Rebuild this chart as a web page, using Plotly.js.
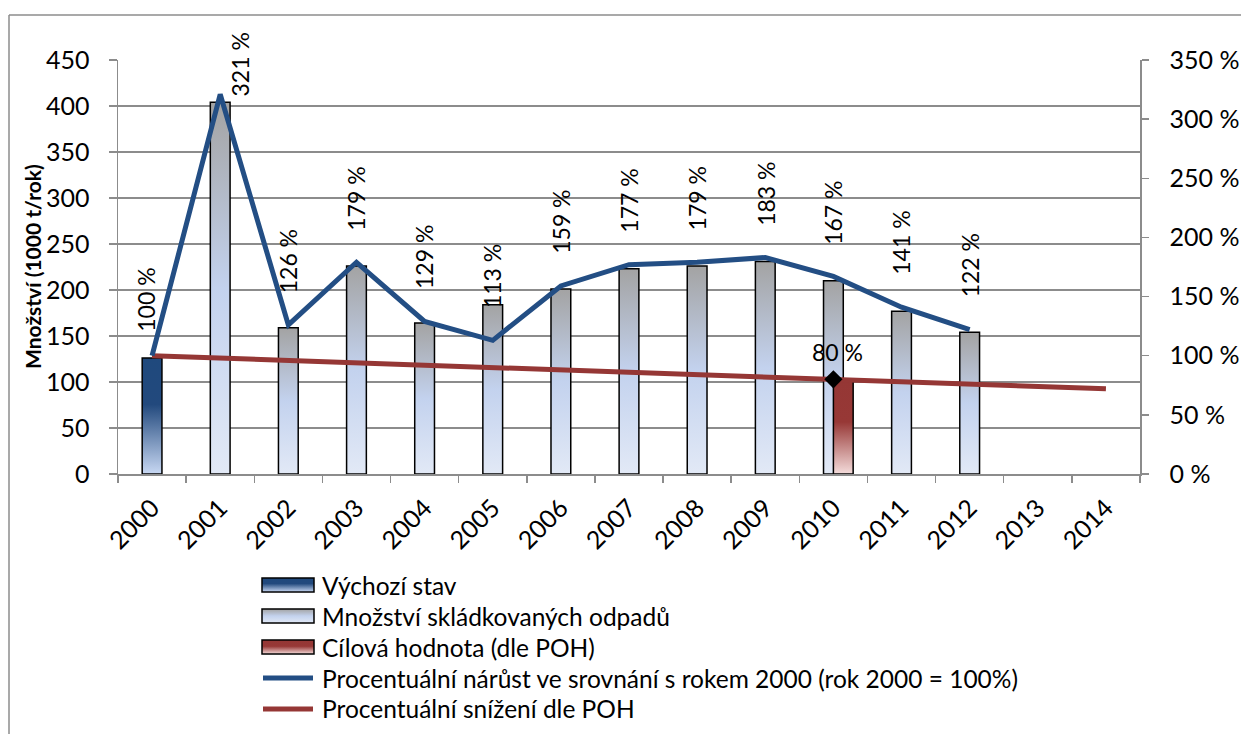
<!DOCTYPE html>
<html>
<head>
<meta charset="utf-8">
<script src="https://cdn.plot.ly/plotly-3.0.1.min.js"></script>
<style>
  html, body { margin: 0; padding: 0; background: #fff; }
  #chart { width: 1241px; height: 734px; }
</style>
</head>
<body>
<div id="chart"></div>
<script>
// ---------------- DATA ----------------
const years = ['2000','2001','2002','2003','2004','2005','2006','2007','2008','2009','2010','2011','2012','2013','2014'];
const baselineValues = [126, null, null, null, null, null, null, null, null, null, null, null, null, null, null];
const landfilledValues = [null, 404, 159, 226, 164, 184, 201, 223, 226, 231, 210, 177, 154, null, null];
const targetValues = [null, null, null, null, null, null, null, null, null, null, 80, null, null, null, null];
const growthPct = [100, 321, 126, 179, 129, 113, 159, 177, 179, 183, 167, 141, 122, null, null];
const reductionPct = [100, 98, 96, 94, 92, 90, 88, 86, 84, 82, 80, 78, 76, 74, 72];
const targetYear = ['2010'];
const targetPoint = [80];
const targetLabel = ['80 %'];
const leftTicks = [0, 50, 100, 150, 200, 250, 300, 350, 400, 450];
const rightTicks = [0, 50, 100, 150, 200, 250, 300, 350];
const rightTickText = ['0 %', '50 %', '100 %', '150 %', '200 %', '250 %', '300 %', '350 %'];
const seriesNames = {
  base: 'Výchozí stav',
  land: 'Množství skládkovaných odpadů',
  target: 'Cílová hodnota (dle POH)',
  growth: 'Procentuální nárůst ve srovnání s rokem 2000 (rok 2000 = 100%)',
  reduction: 'Procentuální snížení dle POH'
};
const yTitle = 'Množství (1000 t/rok)';

// ---------------- STYLE ----------------
const FONT = 'Lato, "Open Sans", sans-serif';
const GRID = '#8c8c8c';
const BLUE = '#234e84';
const RED = '#953735';
const W = 1241, H = 734;
const M = { l: 118, r: 101, t: 60, b: 260 };
const plotW = W - M.l - M.r, plotH = H - M.t - M.b;
const px2x = px => (px - M.l) / plotW;
const py2y = py => (H - M.b - py) / plotH;
const TICK_SIZE = 25, LABEL_SIZE = 23, LEGEND_SIZE = 24.5;

const barW = 0.29;

const data = [
  { type: 'bar', name: seriesNames.land, x: years, y: landfilledValues, yaxis: 'y',
    width: barW, marker: { color: '#c3d2ee', line: { color: '#000', width: 1.5 } }, showlegend: false, hoverinfo: 'skip' },
  { type: 'bar', name: seriesNames.base, x: years, y: baselineValues, yaxis: 'y',
    width: barW, marker: { color: '#1f497d', line: { color: '#000', width: 1.5 } }, showlegend: false, hoverinfo: 'skip' },
  { type: 'bar', name: seriesNames.target, x: years, y: targetValues, yaxis: 'y2',
    width: barW, offset: 0, marker: { color: RED, line: { color: '#000', width: 1.5 } }, showlegend: false, hoverinfo: 'skip' },
  { type: 'scatter', mode: 'lines', name: seriesNames.reduction, x: years, y: reductionPct, yaxis: 'y2',
    line: { color: RED, width: 5 }, showlegend: false, hoverinfo: 'skip' },
  { type: 'scatter', mode: 'lines', name: seriesNames.growth, x: years, y: growthPct, yaxis: 'y2',
    line: { color: BLUE, width: 5 }, connectgaps: false, showlegend: false, hoverinfo: 'skip' },
  { type: 'scatter', mode: 'markers', name: 'target point', x: targetYear, y: targetPoint, yaxis: 'y2',
    marker: { symbol: 'diamond', size: 14, color: '#000' }, showlegend: false, hoverinfo: 'skip' }
];

// ---------------- ANNOTATIONS ----------------
const annotations = [];
growthPct.forEach((v, i) => {
  if (v == null) return;
  const pointPy = H - M.b - v / 350 * plotH;
  const overflow = pointPy - 30 - 64 < M.t - 40;
  annotations.push({
    x: i, y: v, xref: 'x', yref: 'y2',
    text: v + ' %', textangle: -90, showarrow: false,
    xanchor: 'center', yanchor: 'bottom',
    xshift: overflow ? 20 : (i === 0 ? -6 : 0), yshift: overflow ? -4 : (i === 0 ? 22 : 30),
    font: { family: FONT, size: LABEL_SIZE, color: '#000' }
  });
});
annotations.push({
  x: years.indexOf(targetYear[0]), y: targetPoint[0], xref: 'x', yref: 'y2', text: targetLabel[0],
  showarrow: false, xanchor: 'center', yanchor: 'middle', yshift: 27, xshift: 4,
  font: { family: FONT, size: LABEL_SIZE, color: '#000' }
});
// y-axis title (placed explicitly, centred on the plot height)
annotations.push({
  x: px2x(32), y: 0.5, xref: 'paper', yref: 'paper', text: '<b>' + yTitle + '</b>', textangle: -90,
  showarrow: false, xanchor: 'center', yanchor: 'middle',
  font: { family: FONT, size: 21, color: '#000' }
});

// custom legend
const legendRows = [585, 616, 647, 678, 709];
const legendItems = [
  { name: seriesNames.base, kind: 'rect', grad: 'gBlue' },
  { name: seriesNames.land, kind: 'rect', grad: 'gGray' },
  { name: seriesNames.target, kind: 'rect', grad: 'gRed' },
  { name: seriesNames.growth, kind: 'line', color: BLUE },
  { name: seriesNames.reduction, kind: 'line', color: RED }
];
const shapes = [
  { type: 'line', xref: 'paper', yref: 'paper', x0: px2x(9), x1: px2x(1245), y0: py2y(15), y1: py2y(15), line: { color: GRID, width: 1.5 } },
  { type: 'line', xref: 'paper', yref: 'paper', x0: px2x(9), x1: px2x(9), y0: py2y(15), y1: py2y(740), line: { color: GRID, width: 1.5 } }
];
const shapeGrad = {};
legendItems.forEach((it, k) => {
  const cy = legendRows[k];
  if (it.kind === 'rect') {
    shapeGrad[shapes.length] = it.grad;
    shapes.push({ type: 'rect', xref: 'paper', yref: 'paper', x0: px2x(262), x1: px2x(314), y0: py2y(cy - 7), y1: py2y(cy + 7),
      fillcolor: '#888', line: { color: '#000', width: 1.5 } });
  } else {
    shapes.push({ type: 'line', xref: 'paper', yref: 'paper', x0: px2x(263), x1: px2x(313), y0: py2y(cy), y1: py2y(cy),
      line: { color: it.color, width: 5 } });
  }
  annotations.push({ x: px2x(320), y: py2y(cy), xref: 'paper', yref: 'paper', text: it.name, showarrow: false,
    xanchor: 'left', yanchor: 'middle', font: { family: FONT, size: LEGEND_SIZE, color: '#000' } });
});

const layout = {
  width: W, height: H,
  margin: M,
  paper_bgcolor: '#fff', plot_bgcolor: '#fff',
  font: { family: FONT, color: '#000', size: TICK_SIZE },
  barmode: 'overlay',
  showlegend: false,
  xaxis: {
    type: 'category', categoryorder: 'array', categoryarray: years, range: [-0.5, 14.5],
    tickson: 'boundaries', ticks: 'outside', ticklen: 7, tickcolor: GRID, tickwidth: 1.5,
    showline: true, linecolor: GRID, linewidth: 1.5, showgrid: false, zeroline: false,
    tickangle: -45, tickfont: { family: FONT, size: TICK_SIZE, color: '#000' }, ticklabelstandoff: 8
  },
  yaxis: {
    range: [0, 450], tickvals: leftTicks, showgrid: true, gridcolor: GRID, gridwidth: 1.5,
    showline: true, linecolor: GRID, linewidth: 1.5, ticks: 'outside', ticklen: 8, tickcolor: GRID, tickwidth: 1.5,
    zeroline: false, tickfont: { family: FONT, size: TICK_SIZE, color: '#000' }, ticklabelstandoff: 14
  },
  yaxis2: {
    overlaying: 'y', side: 'right', range: [0, 350], tickvals: rightTicks, ticktext: rightTickText,
    showgrid: false, showline: true, linecolor: GRID, linewidth: 1.5, ticks: 'outside', ticklen: 7, tickcolor: GRID, tickwidth: 1.5,
    zeroline: false, tickfont: { family: FONT, size: TICK_SIZE, color: '#000' }, ticklabelstandoff: 16
  },
  shapes: shapes,
  annotations: annotations
};

const gradients = {
  gGray: [['0%', '#a3a3a3'], ['50%', '#c3d2ee'], ['100%', '#e2e9f6']],
  gBlue: [['0%', '#1f497d'], ['40%', '#22497d'], ['100%', '#c8d8f3']],
  gRed: [['0%', '#953735'], ['45%', '#973836'], ['100%', '#f4dcdb']]
};
const traceGrad = {};
traceGrad[seriesNames.land] = 'gGray';
traceGrad[seriesNames.base] = 'gBlue';
traceGrad[seriesNames.target] = 'gRed';

function applyGradients(gd) {
  const svg = gd.querySelector('svg.main-svg');
  const NS = 'http://www.w3.org/2000/svg';
  let defs = svg.querySelector('defs');
  if (!defs) { defs = document.createElementNS(NS, 'defs'); svg.insertBefore(defs, svg.firstChild); }
  Object.keys(gradients).forEach(id => {
    const lg = document.createElementNS(NS, 'linearGradient');
    lg.setAttribute('id', id);
    lg.setAttribute('x1', '0'); lg.setAttribute('y1', '0'); lg.setAttribute('x2', '0'); lg.setAttribute('y2', '1');
    gradients[id].forEach(([off, col]) => {
      const st = document.createElementNS(NS, 'stop');
      st.setAttribute('offset', off); st.setAttribute('stop-color', col);
      lg.appendChild(st);
    });
    defs.appendChild(lg);
  });
  gd.querySelectorAll('g.trace.bars').forEach(g => {
    const cd = g.__data__;
    const tr = cd && cd[0] && cd[0].trace;
    const gid = tr && traceGrad[tr.name];
    if (gid) g.querySelectorAll('path').forEach(p => { p.style.fill = 'url(#' + gid + ')'; });
  });
  gd.querySelectorAll('.shapelayer path').forEach(p => {
    const idx = p.getAttribute('data-index');
    if (idx != null && shapeGrad[+idx]) p.style.fill = 'url(#' + shapeGrad[+idx] + ')';
  });
}

const gd = document.getElementById('chart');
Plotly.newPlot(gd, data, layout, { staticPlot: true, displayModeBar: false }).then(() => applyGradients(gd));
</script>
</body>
</html>
